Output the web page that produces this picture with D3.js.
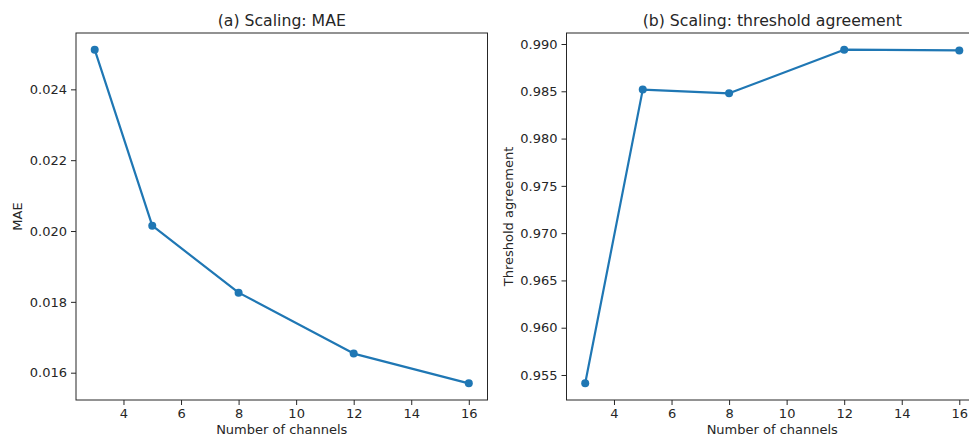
<!DOCTYPE html>
<html lang="en">
<head>
    <meta charset="UTF-8">
    <title></title>
    <style type="text/css">
        html, body { padding:0; margin:0; background:#fff; }
        text { font-family: "DejaVu Sans", sans-serif; fill:#262626; }
    </style>
</head>
<body>
<script src="https://d3js.org/d3.v7.min.js"></script>
<script>
    var channels = [3, 5, 8, 12, 16];
    var maeValues = [0.02512, 0.02015, 0.01826, 0.01654, 0.01570];
    var agreementValues = [0.95412, 0.98518, 0.98479, 0.98940, 0.98932];
    var xTicks = [4, 6, 8, 10, 12, 14, 16];
    var maeTicks = [0.016, 0.018, 0.020, 0.022, 0.024];
    var agreementTicks = [0.955, 0.960, 0.965, 0.970, 0.975, 0.980, 0.985, 0.990];

    var width = 969,
        height = 438,
        plotTop = 33,
        plotBottom = 400,
        panelWidth = 411.5,
        color = '#1f77b4';

    var svg = d3.select('body').append('svg')
                .attr('width', width)
                .attr('height', height);

    function padded(values) {
        var ext = d3.extent(values), pad = (ext[1] - ext[0]) * 0.05;
        return [ext[0] - pad, ext[1] + pad];
    }

    function panel(left, values, yTicks, fmt, title, yLabel, yLabelX) {
        var scaleX = d3.scaleLinear().domain(padded(channels))
                       .range([left, left + panelWidth]),
            scaleY = d3.scaleLinear().domain(padded(values))
                       .range([plotBottom, plotTop]);

        var axisX = d3.axisBottom(scaleX).tickValues(xTicks)
                      .tickSize(5).tickPadding(4).tickFormat(d3.format('d')),
            axisY = d3.axisLeft(scaleY).tickValues(yTicks)
                      .tickSize(5).tickPadding(4).tickFormat(d3.format(fmt));

        var gx = svg.append('g')
           .attr('transform', 'translate(0,' + plotBottom + ')')
           .call(axisX);
        var gy = svg.append('g')
           .attr('transform', 'translate(' + left + ',0)')
           .call(axisY);

        [gx, gy].forEach(function(g) {
            g.attr('font-size', null).attr('font-family', null);
            g.select('.domain').remove();
            g.selectAll('.tick line').attr('stroke', '#262626').attr('stroke-width', 1);
            g.selectAll('.tick text').style('font-size', '13px').attr('fill', '#262626');
        });

        svg.append('rect')
           .attr('x', left)
           .attr('y', plotTop)
           .attr('width', panelWidth)
           .attr('height', plotBottom - plotTop)
           .attr('fill', 'none')
           .attr('stroke', '#262626')
           .attr('stroke-width', 1);

        var line = d3.line()
                     .x(function(d, i) { return scaleX(channels[i]); })
                     .y(function(d) { return scaleY(d); });

        svg.append('path')
           .datum(values)
           .attr('d', line)
           .attr('fill', 'none')
           .attr('stroke', color)
           .attr('stroke-width', 2.2)
           .attr('stroke-linejoin', 'round');

        svg.selectAll(null)
           .data(values)
           .enter()
           .append('circle')
           .attr('cx', function(d, i) { return scaleX(channels[i]); })
           .attr('cy', function(d) { return scaleY(d); })
           .attr('r', 4)
           .attr('fill', color);

        var cx = left + panelWidth / 2;

        svg.append('text')
           .attr('x', cx)
           .attr('y', 26)
           .attr('text-anchor', 'middle')
           .style('font-size', '15.7px')
           .text(title);

        // reference crops the descenders here; keep it just inside
        svg.append('text')
           .attr('x', cx)
           .attr('y', 434)
           .attr('text-anchor', 'middle')
           .style('font-size', '13px')
           .text('Number of channels');

        svg.append('text')
           .attr('transform', 'translate(' + yLabelX + ',' + ((plotTop + plotBottom) / 2) + ') rotate(-90)')
           .attr('text-anchor', 'middle')
           .style('font-size', '13px')
           .text(yLabel);
    }

    panel(76, maeValues, maeTicks, '.3f', '(a) Scaling: MAE', 'MAE', 22);
    panel(566.5, agreementValues, agreementTicks, '.3f', '(b) Scaling: threshold agreement', 'Threshold agreement', 513);
</script>
</body>
</html>
